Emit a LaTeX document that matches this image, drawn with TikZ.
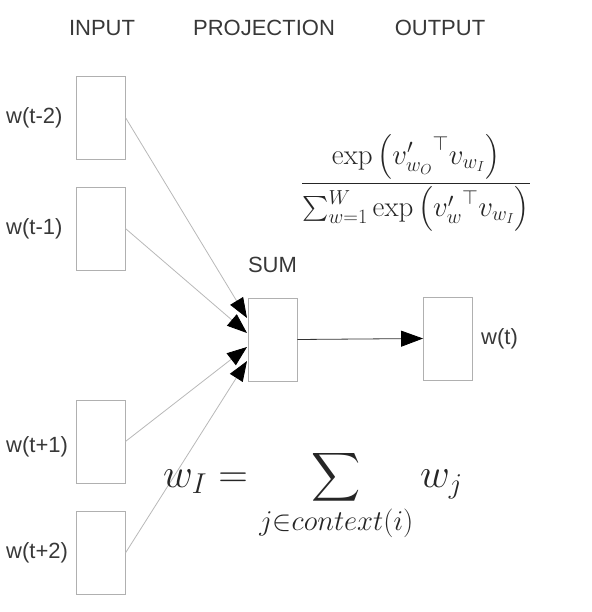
\RequirePackage{fix-cm}
\documentclass[tikz,border=0pt]{standalone}
\usepackage{amsmath}
\usepackage{graphicx}
\usepackage[no-math]{fontspec}
\setmainfont{Liberation Sans}
\usetikzlibrary{arrows.meta}
\definecolor{boxgray}{HTML}{B0B0B0}
\definecolor{linegray}{HTML}{B8B8B8}
\definecolor{txt}{HTML}{383838}
\newcommand{\bigsumop}{\mathop{\vcenter{\hbox{\scalebox{1.37}{$\displaystyle\sum$}}}}\limits}
\tikzset{
  unit/.style={draw=boxgray, line width=0.9pt, minimum width=49pt, minimum height=83pt, inner sep=0pt},
  head/.style={text=txt, font=\fontsize{22}{26}\selectfont, inner sep=0pt},
  lab/.style={text=txt, font=\fontsize{22}{26}\selectfont, inner sep=0pt},
  feed/.style={draw=linegray, line width=0.8pt, -{Triangle[length=20pt,width=15pt,color=black]}},
  proj/.style={draw=black!80, line width=0.8pt, -{Triangle[length=22pt,width=16pt,color=black]}},
  eq/.style={inner sep=0pt, text=black!85}
}
\begin{document}
\begin{tikzpicture}[x=1pt,y=-1pt]
\useasboundingbox (0,0) rectangle (591,612);
% headers
\node[head] (hin) at (102,28) {INPUT};
\node[head] (hproj) at (264,28) {PROJECTION};
\node[head] (hout) at (440,28) {OUTPUT};
% input boxes
\node[unit] (b1) at (100.5,117.5) {};
\node[unit] (b2) at (100.5,228.5) {};
\node[unit] (b3) at (100.5,441.5) {};
\node[unit] (b4) at (100.5,553) {};
\node[lab, anchor=west] (l1) at (6,118) {w(t-2)};
\node[lab, anchor=west] (l2) at (6,229) {w(t-1)};
\node[lab, anchor=west] (l3) at (6,447) {w(t+1)};
\node[lab, anchor=west] (l4) at (6,553) {w(t+2)};
% sum and output
\node[unit] (s) at (272.5,339.5) {};
\node[head] (lsum) at (272.5,265) {SUM};
\node[unit] (o) at (448,338.5) {};
\node[lab, anchor=west] (lo) at (481,339) {w(t)};
% arrow tips
\coordinate (t1) at (247,318);
\coordinate (t2) at (247,333);
\coordinate (t3) at (247,347);
\coordinate (t4) at (247,361);
\draw[feed] (b1.east) -- (t1);
\draw[feed] (b2.east) -- (t2);
\draw[feed] (b3.east) -- (t3);
\draw[feed] (b4.east) -- (t4);
\draw[proj] (s.east) -- (o.west);
% formulas
\node[eq, font=\fontsize{29}{34}\selectfont] (f1) at (416,183)
  {$\displaystyle\frac{\exp\left({v'_{w_O}}^{\top} v_{w_I}\right)}{\sum_{w=1}^{W}\exp\left({v'_{w}}^{\top} v_{w_I}\right)}$};
\node[eq, font=\fontsize{41}{48}\selectfont, anchor=west] (f2) at (163,495)
  {$\displaystyle w_I=\bigsumop_{j\in context(i)} w_j$};
\end{tikzpicture}
\end{document}
